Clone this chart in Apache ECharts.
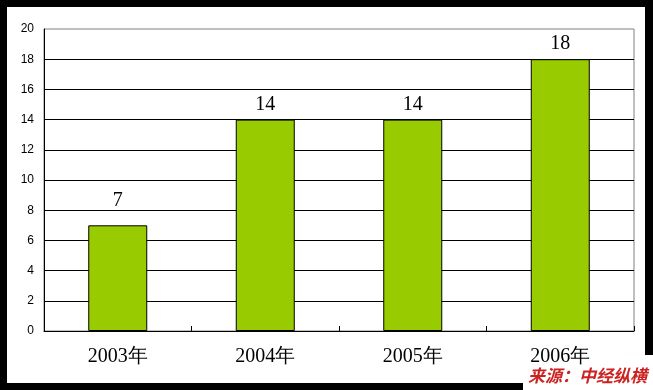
<!DOCTYPE html>
<html>
<head>
<meta charset="utf-8">
<script src="https://cdn.jsdelivr.net/npm/echarts@6/dist/echarts.min.js"></script>
<style>
html,body{margin:0;padding:0;background:#000;}
#c{width:653px;height:390px;}
</style>
</head>
<body>
<div id="c"></div>
<script>
const categories = ['2003年', '2004年', '2005年', '2006年'];
const values = [7, 14, 14, 18];
const yTicks = [0, 2, 4, 6, 8, 10, 12, 14, 16, 18, 20];
const sourceText = '来源：中经纵横';

const chart = echarts.init(document.getElementById('c'), null, {renderer: 'canvas'});
chart.setOption({
  animation: false,
  backgroundColor: '#000',
  graphic: [
    {type: 'rect', shape: {x: 7, y: 7, width: 638, height: 376}, style: {fill: '#fff'}, z: -10, silent: true},
    {type: 'rect', shape: {x: 523, y: 355, width: 130, height: 35}, style: {fill: '#fff'}, z: -9, silent: true},
    {type: 'text', left: 528, top: 367, style: {text: sourceText, fill: '#CC2222', font: 'italic bold 17px "Noto Sans CJK SC"'}, z: 10, silent: true}
  ],
  grid: {left: 44, top: 29, width: 590, height: 302, show: true, borderColor: '#808080', borderWidth: 1, backgroundColor: '#fff'},
  xAxis: {
    type: 'category',
    data: categories,
    axisLine: {show: true, lineStyle: {color: '#000', width: 1}},
    axisTick: {show: true, inside: true, length: 5, lineStyle: {color: '#000'}},
    axisLabel: {color: '#000', fontFamily: 'Liberation Serif', fontSize: 20, margin: 16},
    splitLine: {show: false}
  },
  yAxis: {
    type: 'value',
    min: yTicks[0],
    max: yTicks[yTicks.length - 1],
    interval: yTicks[1] - yTicks[0],
    axisLine: {show: true, lineStyle: {color: '#000', width: 1}},
    axisTick: {show: false},
    axisLabel: {color: '#000', fontFamily: 'Liberation Sans', fontSize: 12, margin: 10},
    splitLine: {show: true, showMaxLine: false, lineStyle: {color: '#000', width: 1}}
  },
  series: [{
    type: 'bar',
    data: values.map(function (v, i) { return i === 0 ? {value: v, label: {distance: 15}} : v; }),
    barWidth: '40%',
    itemStyle: {color: '#99CC00', borderColor: '#000', borderWidth: 1},
    label: {show: true, position: 'top', distance: 5, color: '#000', fontFamily: 'Liberation Serif', fontSize: 20}
  }]
});
</script>
</body>
</html>
